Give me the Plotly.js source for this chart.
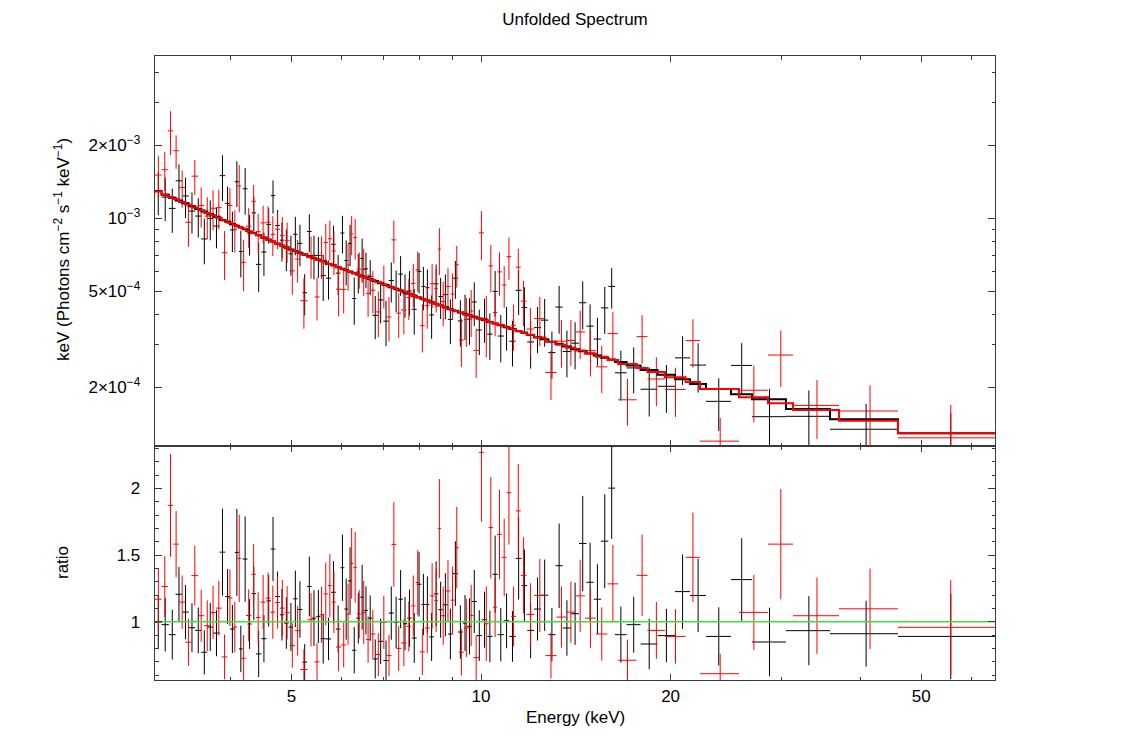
<!DOCTYPE html>
<html>
<head>
<meta charset="utf-8">
<script src="https://cdn.plot.ly/plotly-3.0.1.min.js"></script>
<style>html,body{margin:0;padding:0;background:#fff}</style>
</head>
<body>
<div id="chart" style="width:1125px;height:756px"></div>
<script>
// Spectrum 1 (black): bin edges in keV, data/model ratio, ratio error, model (1e-4 keV Photons cm^-2 s^-1 keV^-1)
const blackEdges = [3.037, 3.110, 3.195, 3.275, 3.355, 3.435, 3.518, 3.597, 3.677, 3.757,
  3.847, 3.926, 3.994, 4.066, 4.127, 4.186, 4.259, 4.324, 4.393, 4.480,
  4.565, 4.639, 4.712, 4.794, 4.867, 4.950, 5.033, 5.113, 5.205, 5.293,
  5.385, 5.476, 5.561, 5.672, 5.782, 5.881, 5.983, 6.069, 6.149, 6.244,
  6.339, 6.432, 6.520, 6.614, 6.725, 6.862, 6.998, 7.136, 7.272, 7.393,
  7.515, 7.635, 7.764, 7.905, 8.042, 8.160, 8.280, 8.417, 8.558, 8.698,
  8.860, 9.021, 9.190, 9.358, 9.507, 9.668, 9.847, 10.03, 10.23, 10.43,
  10.63, 10.87, 11.09, 11.35, 11.60, 11.84, 12.14, 12.45, 12.79, 13.13,
  13.48, 13.90, 14.31, 14.70, 15.10, 15.51, 15.93, 16.32, 17.03, 17.92,
  19.07, 20.32, 21.47, 22.76, 24.94, 26.93, 30.49, 35.82, 45.92, 65.47];
const blackRatio = [0.995, 0.978, 0.903, 1.206, 1.072, 0.955, 0.935, 0.771, 0.96, 0.915,
  1.522, 1.189, 0.945, 1.52, 0.796, 1.47, 0.983, 1.211, 0.759, 0.873,
  1.157, 1.545, 1.189, 1.052, 0.99, 0.96, 1.172, 1.092, 0.697, 1.264,
  1.027, 1.04, 0.873, 0.871, 1.221, 0.945, 1.405, 1.095, 1.306, 0.786,
  1.027, 1.184, 1.085, 1.027, 0.721, 0.853, 0.709, 1.065, 0.995, 1.169,
  0.985, 1.027, 0.878, 1.281, 1.129, 1.129, 0.886, 1.209, 1.09, 1.127,
  0.908, 1.361, 0.923, 0.99, 0.965, 1.152, 0.896, 1.015, 0.89, 1.356,
  0.903, 1.007, 0.89, 1.475, 1.271, 0.935, 1.095, 1.199, 0.903, 1.42,
  0.953, 1.06, 1.587, 1.296, 1.169, 1.604, 2.002, 0.903, 0.978, 0.833,
  0.896, 1.226, 1.197, 0.89, 1.316, 0.848, 0.933, 0.91, 0.89];
const blackRatioErr = [0.20, 0.20, 0.187, 0.205, 0.203, 0.184, 0.172, 0.165, 0.18, 0.174,
  0.326, 0.206, 0.18, 0.326, 0.174, 0.32, 0.187, 0.2, 0.174, 0.177,
  0.193, 0.241, 0.187, 0.193, 0.193, 0.18, 0.212, 0.212, 0.135, 0.224,
  0.21, 0.2, 0.187, 0.16, 0.234, 0.177, 0.249, 0.23, 0.252, 0.174,
  0.19, 0.243, 0.18, 0.17, 0.146, 0.17, 0.15, 0.2, 0.193, 0.218,
  0.2, 0.214, 0.187, 0.243, 0.23, 0.211, 0.18, 0.243, 0.21, 0.236,
  0.19, 0.243, 0.2, 0.21, 0.21, 0.236, 0.19, 0.21, 0.194, 0.29,
  0.2, 0.206, 0.19, 0.308, 0.27, 0.209, 0.236, 0.267, 0.2, 0.317,
  0.208, 0.233, 0.357, 0.297, 0.262, 0.352, 0.38, 0.21, 0.21, 0.19,
  0.2, 0.279, 0.275, 0.218, 0.31, 0.257, 0.259, 0.247, 0.32];
const blackModel = [12.93, 12.48, 12.14, 11.81, 11.51, 11.19, 10.90, 10.64, 10.38, 10.13,
  9.829, 9.667, 9.453, 9.287, 9.144, 8.983, 8.799, 8.679, 8.487, 8.302,
  8.132, 8.008, 7.844, 7.705, 7.578, 7.417, 7.312, 7.198, 7.063, 6.964,
  6.833, 6.737, 6.632, 6.485, 6.387, 6.274, 6.176, 6.104, 6.018, 5.927,
  5.842, 5.760, 5.691, 5.604, 5.505, 5.389, 5.300, 5.188, 5.109, 5.024,
  4.948, 4.872, 4.787, 4.707, 4.628, 4.574, 4.499, 4.430, 4.357, 4.291,
  4.205, 4.150, 4.079, 4.026, 3.973, 3.914, 3.855, 3.797, 3.731, 3.675,
  3.612, 3.547, 3.490, 3.413, 3.365, 3.297, 3.227, 3.164, 3.087, 3.025,
  2.956, 2.876, 2.820, 2.765, 2.712, 2.657, 2.610, 2.548, 2.464, 2.363,
  2.259, 2.163, 2.068, 1.971, 1.875, 1.788, 1.631, 1.479, 1.295];

// Spectrum 2 (red)
const redEdges = [3.037, 3.112, 3.183, 3.246, 3.315, 3.393, 3.470, 3.555, 3.636, 3.716,
  3.794, 3.876, 3.957, 4.031, 4.101, 4.163, 4.235, 4.320, 4.391, 4.466,
  4.552, 4.632, 4.712, 4.796, 4.878, 4.968, 5.066, 5.165, 5.303, 5.442,
  5.541, 5.626, 5.713, 5.797, 5.885, 5.998, 6.109, 6.194, 6.271, 6.355,
  6.461, 6.566, 6.670, 6.799, 6.942, 7.079, 7.209, 7.334, 7.469, 7.616,
  7.747, 7.870, 8.000, 8.141, 8.292, 8.436, 8.542, 8.636, 8.782, 8.944,
  9.081, 9.224, 9.393, 9.566, 9.728, 9.922, 10.11, 10.28, 10.45, 10.61,
  10.79, 10.98, 11.17, 11.36, 11.56, 11.81, 12.15, 12.65, 13.18, 13.66,
  14.12, 14.62, 15.22, 15.88, 16.51, 17.66, 18.38, 19.59, 21.13, 22.27,
  25.68, 28.55, 31.29, 37.01, 45.92, 65.47];
const redRatio = [1.169, 1.264, 1.873, 1.582, 1.147, 0.846, 1.346, 1.045, 0.97, 1.07,
  1.102, 0.736, 1.179, 0.96, 1.475, 0.726, 1.047, 1.356, 1.032, 1.147,
  1.177, 1.072, 1.144, 1.102, 1.067, 0.821, 0.933, 0.642, 1.015, 0.699,
  1.052, 1.209, 1.271, 1.147, 0.811, 0.826, 1.057, 1.438, 1.408, 1.057,
  1.07, 0.866, 0.908, 0.754, 0.995, 0.746, 1.58, 0.8, 0.841, 0.965,
  1.119, 1.294, 0.774, 0.953, 1.194, 1.159, 1.699, 1.045, 1.231, 1.162,
  1.555, 0.771, 0.953, 1.047, 0.731, 2.27, 0.985, 1.706, 1.109, 1.654,
  1.483, 1.968, 1.04, 1.831, 1.348, 1.055, 1.197, 0.746, 1.035, 1.072,
  1.194, 1.027, 0.908, 1.284, 0.711, 1.348, 0.935, 0.89, 1.483, 0.61,
  1.07, 1.582, 1.045, 1.097, 0.958];
const redRatioErr = [0.23, 0.23, 0.386, 0.249, 0.2, 0.177, 0.224, 0.196, 0.19, 0.2,
  0.205, 0.168, 0.212, 0.19, 0.327, 0.174, 0.195, 0.226, 0.189, 0.203,
  0.193, 0.2, 0.197, 0.211, 0.2, 0.167, 0.187, 0.15, 0.2, 0.14,
  0.21, 0.236, 0.236, 0.233, 0.184, 0.168, 0.23, 0.265, 0.267, 0.18,
  0.236, 0.174, 0.18, 0.162, 0.2, 0.155, 0.317, 0.168, 0.174, 0.187,
  0.228, 0.243, 0.174, 0.187, 0.245, 0.236, 0.371, 0.218, 0.231, 0.251,
  0.305, 0.174, 0.218, 0.23, 0.168, 0.52, 0.28, 0.38, 0.224, 0.336,
  0.29, 0.39, 0.224, 0.352, 0.286, 0.234, 0.275, 0.172, 0.23, 0.23,
  0.271, 0.224, 0.2, 0.292, 0.155, 0.305, 0.213, 0.204, 0.335, 0.15,
  0.282, 0.414, 0.286, 0.302, 0.354];
const redModel = [12.87, 12.52, 12.22, 11.98, 11.65, 11.36, 11.06, 10.77, 10.50, 10.26,
  10.02, 9.773, 9.560, 9.364, 9.198, 9.046, 8.846, 8.654, 8.522, 8.326,
  8.166, 7.998, 7.857, 7.682, 7.556, 7.380, 7.260, 7.106, 6.897, 6.760,
  6.656, 6.562, 6.462, 6.377, 6.274, 6.148, 6.055, 5.982, 5.912, 5.828,
  5.725, 5.650, 5.550, 5.441, 5.332, 5.238, 5.145, 5.068, 4.966, 4.877,
  4.804, 4.729, 4.652, 4.569, 4.489, 4.419, 4.384, 4.326, 4.241, 4.180,
  4.129, 4.076, 4.005, 3.953, 3.894, 3.827, 3.778, 3.720, 3.675, 3.627,
  3.573, 3.522, 3.476, 3.424, 3.372, 3.304, 3.215, 3.093, 3.000, 2.917,
  2.840, 2.765, 2.681, 2.599, 2.504, 2.406, 2.320, 2.206, 2.106, 1.971,
  1.822, 1.721, 1.615, 1.459, 1.295];

const xTickVals = [5, 10, 20, 50];
const xTickText = ['5', '10', '20', '50'];
const xMinorVals = [3, 4, 6, 7, 8, 9, 30, 40, 60];
const fluxTickVals = [2e-4, 5e-4, 1e-3, 2e-3];
const fluxTickText = ['2×10<sup>−4</sup>', '5×10<sup>−4</sup>', '10<sup>−3</sup>', '2×10<sup>−3</sup>'];
const fluxMinorVals = [3e-4, 4e-4, 6e-4, 7e-4, 8e-4, 9e-4, 3e-3, 4e-3];
const ratioTickVals = [1, 1.5, 2];
const ratioTickText = ['1', '1.5', '2'];

const FONT = 'Liberation Sans, Arial, Helvetica, sans-serif';
const AXCOL = '#3a3a3a';

// bin centre and half widths from the edges
function bins(edges) {
  const x = [], plus = [], minus = [];
  for (let i = 0; i < edges.length - 1; i += 1) {
    const c = (edges[i] + edges[i + 1]) / 2;
    x.push(c);
    plus.push(edges[i + 1] - c);
    minus.push(c - edges[i]);
  }
  return {x, plus, minus};
}

function dataTraces(edges, ratio, ratioErr, model, color) {
  const b = bins(edges);
  const flux = ratio.map((r, i) => r * model[i] * 1e-4);
  const fluxErr = ratioErr.map((e, i) => e * model[i] * 1e-4);
  const ex = {type: 'data', symmetric: false, array: b.plus, arrayminus: b.minus,
    color: color, thickness: 1, width: 0};
  const top = {
    x: b.x, y: flux, xaxis: 'x', yaxis: 'y', type: 'scatter', mode: 'none',
    error_x: ex,
    error_y: {type: 'data', array: fluxErr, color: color, thickness: 1, width: 0},
    hoverinfo: 'skip', showlegend: false
  };
  const bottom = {
    x: b.x, y: ratio, xaxis: 'x2', yaxis: 'y2', type: 'scatter', mode: 'none',
    error_x: ex,
    error_y: {type: 'data', array: ratioErr, color: color, thickness: 1, width: 0},
    hoverinfo: 'skip', showlegend: false
  };
  const modelY = model.map(m => m * 1e-4);
  modelY.push(modelY[modelY.length - 1]);
  const step = {
    x: edges, y: modelY, xaxis: 'x', yaxis: 'y', type: 'scatter', mode: 'lines',
    line: {shape: 'hv', color: color, width: 2},
    hoverinfo: 'skip', showlegend: false
  };
  return {top, bottom, step};
}

const blk = dataTraces(blackEdges, blackRatio, blackRatioErr, blackModel, '#000000');
const red = dataTraces(redEdges, redRatio, redRatioErr, redModel, '#ff0000');

const unity = {
  x: [blackEdges[0], blackEdges[blackEdges.length - 1]], y: [1, 1],
  xaxis: 'x2', yaxis: 'y2', type: 'scatter', mode: 'lines',
  line: {color: '#3fe03f', width: 1.5}, hoverinfo: 'skip', showlegend: false
};

const xRange = [Math.log10(3.037), Math.log10(65.47)];

const common = {
  ticks: 'inside', mirror: 'allticks', showline: true, linecolor: AXCOL, linewidth: 1.3,
  tickcolor: AXCOL, tickwidth: 1, showgrid: false, zeroline: false,
  tickfont: {family: FONT, size: 17, color: '#000'}
};

const layout = {
  width: 1125, height: 756,
  margin: {l: 155, r: 130, t: 56, b: 76},
  paper_bgcolor: '#fff', plot_bgcolor: '#fff',
  font: {family: FONT, color: '#000'},
  title: {text: 'Unfolded Spectrum', font: {family: FONT, size: 17, color: '#000'},
    x: 0.5, xref: 'paper', xanchor: 'center', y: 1 - 19 / 756, yref: 'container', yanchor: 'middle'},
  xaxis: Object.assign({}, common, {
    type: 'log', range: xRange, domain: [0, 1], anchor: 'y', showticklabels: false,
    tickmode: 'array', tickvals: xTickVals, ticklen: 6,
    minor: {tickmode: 'array', tickvals: xMinorVals, ticklen: 3.5, ticks: 'inside', tickcolor: AXCOL}
  }),
  xaxis2: Object.assign({}, common, {
    type: 'log', range: xRange, domain: [0, 1], anchor: 'y2', matches: 'x',
    tickmode: 'array', tickvals: xTickVals, ticktext: xTickText, ticklen: 6,
    minor: {tickmode: 'array', tickvals: xMinorVals, ticklen: 3.5, ticks: 'inside', tickcolor: AXCOL}
  }),
  yaxis: Object.assign({}, common, {
    type: 'log', domain: [0.375, 1], anchor: 'x', ticklabelstandoff: 10,
    range: [Math.log10(1.148e-4), Math.log10(4.66e-3)],
    tickmode: 'array', tickvals: fluxTickVals, ticktext: fluxTickText, ticklen: 7,
    minor: {tickmode: 'array', tickvals: fluxMinorVals, ticklen: 3.5, ticks: 'inside', tickcolor: AXCOL}
  }),
  yaxis2: Object.assign({}, common, {
    domain: [0, 0.375], anchor: 'x2', range: [0.563, 2.318], ticklabelstandoff: 10,
    tickmode: 'array', tickvals: ratioTickVals, ticktext: ratioTickText, ticklen: 7,
    minor: {tickmode: 'linear', tick0: 0, dtick: 0.1, ticklen: 3.5, ticks: 'inside', tickcolor: AXCOL}
  }),
  annotations: [
    {text: 'keV (Photons cm<sup>−2</sup> s<sup>−1</sup> keV<sup>−1</sup>)', textangle: -90,
      xref: 'paper', yref: 'paper', x: (62 - 155) / 840, y: (680 - 250) / 624,
      xanchor: 'center', yanchor: 'middle', showarrow: false,
      font: {family: FONT, size: 17, color: '#000'}},
    {text: 'ratio', textangle: -90,
      xref: 'paper', yref: 'paper', x: (62 - 155) / 840, y: (680 - 563) / 624,
      xanchor: 'center', yanchor: 'middle', showarrow: false,
      font: {family: FONT, size: 17, color: '#000'}},
    {text: 'Energy (keV)',
      xref: 'paper', yref: 'paper', x: 0.5, y: (680 - 717) / 624,
      xanchor: 'center', yanchor: 'middle', showarrow: false,
      font: {family: FONT, size: 17, color: '#000'}}
  ]
};

const traces = [blk.top, red.top, blk.step, red.step, blk.bottom, red.bottom, unity];

window.Plotly.newPlot('chart', traces, layout, {displayModeBar: false, staticPlot: true});
</script>
</body>
</html>
